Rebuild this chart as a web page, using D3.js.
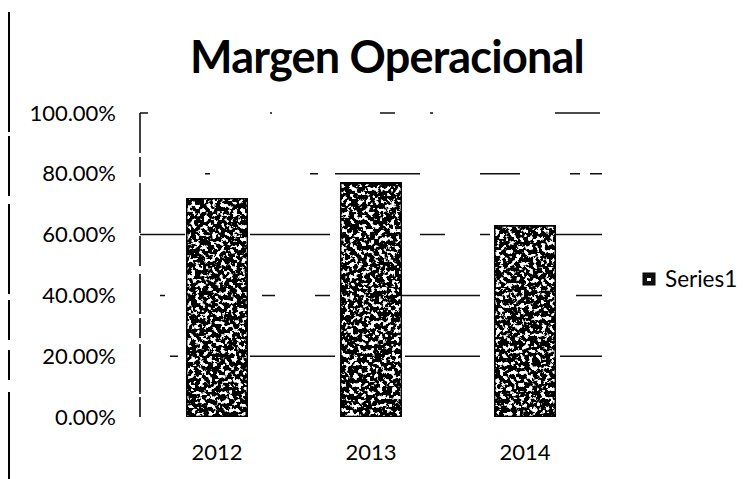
<!DOCTYPE html>
<html>
<head>
<meta charset="utf-8">
<script src="https://cdn.jsdelivr.net/npm/d3@7"></script>
<style>
  body { margin: 0; background: #fff; }
  svg { display: block; }
  text { font-family: Lato, "Open Sans", sans-serif; fill: #000; }
</style>
</head>
<body>
<svg id="chart" width="750" height="479"></svg>
<script>
// values
var years = ["2012", "2013", "2014"];
var margin = [0.72, 0.77, 0.63];
var yTicks = [0, 0.2, 0.4, 0.6, 0.8, 1.0];
var seriesName = "Series1";
var chartTitle = "Margen Operacional";

var svg = d3.select("#chart");
var W = 750, H = 479;
var plot = { left: 140, right: 602, top: 113, bottom: 417 };

var x = d3.scaleBand()
	.domain(years)
	.range([plot.left, plot.right])
	.paddingInner(0.6)
	.paddingOuter(0.3);

var y = d3.scaleLinear()
	.domain([0, 1])
	.range([plot.bottom, plot.top]);

// grainy fill, like the photocopied bars
var defs = svg.append("defs");
var grain = defs.append("filter")
	.attr("id", "grain")
	.attr("x", 0).attr("y", 0).attr("width", 1).attr("height", 1);
grain.append("feTurbulence")
	.attr("type", "fractalNoise")
	.attr("baseFrequency", 0.24)
	.attr("numOctaves", 3)
	.attr("seed", 7)
	.attr("result", "noise");
grain.append("feColorMatrix")
	.attr("in", "noise")
	.attr("type", "matrix")
	.attr("values", "0 0 0 0 0  0 0 0 0 0  0 0 0 0 0  14 0 0 0 -5.5")
	.attr("result", "dots");
grain.append("feComposite")
	.attr("in", "dots")
	.attr("in2", "SourceGraphic")
	.attr("operator", "in")
	.attr("result", "clipped");
var merge = grain.append("feMerge");
merge.append("feMergeNode").attr("in", "SourceGraphic");
merge.append("feMergeNode").attr("in", "clipped");

// broken frame line at the left edge
svg.append("line")
	.attr("x1", 9).attr("x2", 9)
	.attr("y1", 12).attr("y2", H)
	.attr("stroke", "#000")
	.attr("stroke-width", 2)
	.attr("stroke-dasharray", "120,4,60,8,90,6,40,10,30,12");

// title
svg.append("text")
	.attr("x", 387)
	.attr("y", 73)
	.attr("text-anchor", "middle")
	.style("font-size", "45px")
	.style("font-weight", "bold")
	.style("letter-spacing", "-0.8px")
	.text(chartTitle);

// gridlines, only patches survived the copy (patterns for 20%..100%)
var dashes = [
	"0,30,8,72,85,70,75,80,42",
	"0,20,5,97,13,40,15,70,80,96,26",
	"45,65,80,90,25,35,10,65,47",
	"0,65,5,100,8,17,85,60,40,50,10,10,10",
	"8,122,2,108,15,35,3,122,45"
];
svg.append("g")
	.selectAll("line")
	.data(yTicks.slice(1))
	.enter()
	.append("line")
	.attr("x1", plot.left)
	.attr("x2", plot.right)
	.attr("y1", function(d) { return y(d); })
	.attr("y2", function(d) { return y(d); })
	.attr("stroke", "#111")
	.attr("stroke-width", 1.5)
	.attr("stroke-dasharray", function(d, i) { return dashes[i]; });

// vertical axis line
svg.append("line")
	.attr("x1", plot.left).attr("x2", plot.left)
	.attr("y1", plot.top).attr("y2", plot.bottom)
	.attr("stroke", "#000")
	.attr("stroke-width", 1.5)
	.attr("stroke-dasharray", "40,4,20,6,50,3,30,8");

// y axis labels
var yAxis = svg.append("g")
	.attr("transform", "translate(" + plot.left + ",0)")
	.call(d3.axisLeft(y).tickValues(yTicks).tickFormat(d3.format(".2%")).tickSize(0).tickPadding(24));
yAxis.select(".domain").remove();
yAxis.selectAll("text")
	.style("font-size", "22px")
	.style("font-family", "Lato, sans-serif");

// x axis labels
var xAxis = svg.append("g")
	.attr("transform", "translate(0," + plot.bottom + ")")
	.call(d3.axisBottom(x).tickSize(0).tickPadding(27));
xAxis.select(".domain").remove();
xAxis.selectAll("text")
	.style("font-size", "22px")
	.style("font-family", "Lato, sans-serif");

// bars
svg.append("g")
	.selectAll("rect")
	.data(years)
	.enter()
	.append("rect")
	.attr("x", function(d) { return x(d); })
	.attr("y", function(d, i) { return y(margin[i]); })
	.attr("width", x.bandwidth())
	.attr("height", function(d, i) { return y(0) - y(margin[i]); })
	.attr("fill", "#fff")
	.attr("stroke", "#000")
	.attr("stroke-width", 2.5)
	.attr("filter", "url(#grain)");

// legend
var legend = svg.append("g").attr("transform", "translate(643,273)");
legend.append("rect")
	.attr("width", 12).attr("height", 12)
	.attr("fill", "#111")
	.attr("stroke", "#000");
legend.append("rect")
	.attr("x", 4).attr("y", 5).attr("width", 4).attr("height", 3)
	.attr("fill", "#fff");
legend.append("text")
	.attr("x", 22)
	.attr("y", 14)
	.style("font-size", "22.5px")
	.text(seriesName);
</script>
</body>
</html>
